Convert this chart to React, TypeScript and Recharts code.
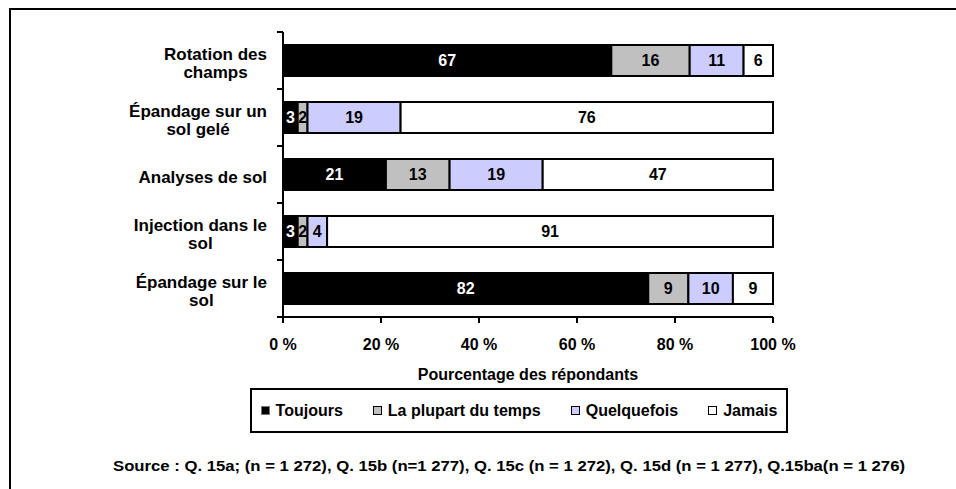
import React from 'react';
import { BarChart, Bar, XAxis, YAxis, LabelList } from 'recharts';

const categories = [
  'Rotation des champs',
  'Épandage sur un sol gelé',
  'Analyses de sol',
  'Injection dans le sol',
  'Épandage sur le sol',
];

// line breaks as in the original axis labels
const categoryLines = [
  ['Rotation des', 'champs'],
  ['Épandage sur un', 'sol gelé'],
  ['Analyses de sol'],
  ['Injection dans le', 'sol'],
  ['Épandage sur le', 'sol'],
];

const toujours = [67, 3, 21, 3, 82];
const plupart = [16, 2, 13, 2, 9];
const quelquefois = [11, 19, 19, 4, 10];
const jamais = [6, 76, 47, 91, 9];

const xTicks = [0, 0.2, 0.4, 0.6, 0.8, 1];

const series = [
  { key: 'toujours', name: 'Toujours', fill: '#000000', label: '#ffffff' },
  { key: 'plupart', name: 'La plupart du temps', fill: '#c0c0c0', label: '#000000' },
  { key: 'quelquefois', name: 'Quelquefois', fill: '#ccccff', label: '#000000' },
  { key: 'jamais', name: 'Jamais', fill: '#ffffff', label: '#000000' },
];

const data = categories.map((name, i) => ({
  name,
  toujours: toujours[i],
  plupart: plupart[i],
  quelquefois: quelquefois[i],
  jamais: jamais[i],
}));

const FONT = "'Liberation Sans', Arial, sans-serif";
const FS = 16;
const CAT_FS = 17;
const PLOT_H = 285;

let ctx: CanvasRenderingContext2D | null = null;
function textWidth(s: string) {
  if (!ctx) ctx = document.createElement('canvas').getContext('2d');
  if (!ctx) return s.length * 9;
  ctx.font = `bold ${CAT_FS}px ${FONT}`;
  return ctx.measureText(s).width;
}

function CategoryTick(props: any) {
  const { x, y, index } = props;
  const band = (Number(props.height) || PLOT_H) / categories.length;
  const lines = categoryLines[index];
  const maxW = Math.max(...lines.map(textWidth));
  const right = x - 16;
  const cx = right - maxW / 2;
  const lh = 18;
  const y0 = y + 3 - ((lines.length - 1) * lh) / 2;
  return (
    <g>
      <line x1={x - 6} x2={x} y1={y - band / 2} y2={y - band / 2} stroke="#000" strokeWidth={2} />
      {index === categories.length - 1 && (
        <line x1={x - 6} x2={x} y1={y + band / 2} y2={y + band / 2} stroke="#000" strokeWidth={2} />
      )}
      <text textAnchor="middle" fontFamily={FONT} fontWeight="bold" fontSize={CAT_FS} fill="#000">
        {lines.map((l, i) => (
          <tspan key={i} x={cx} y={y0 + i * lh} dy="0.35em">
            {l}
          </tspan>
        ))}
      </text>
    </g>
  );
}

export default function App() {
  return (
    <div
      style={{
        position: 'absolute',
        left: 0,
        top: 0,
        width: 956,
        height: 489,
        overflow: 'hidden',
        background: '#fff',
        fontFamily: FONT,
      }}
    >
      <div
        style={{
          position: 'absolute',
          left: 9,
          top: 8,
          width: 1000,
          height: 1000,
          borderLeft: '2px solid #000',
          borderTop: '2px solid #000',
        }}
      />
      <div style={{ position: 'absolute', left: 0, top: 0 }}>
        <BarChart
          width={800}
          height={383}
          data={data}
          layout="vertical"
          stackOffset="expand"
          barSize={31}
          margin={{ top: 32, right: 27, left: 0, bottom: 0 }}
        >
          <XAxis
            type="number"
            domain={[0, 1]}
            ticks={xTicks}
            interval={0}
            tickFormatter={(v: number) => `${Math.round(v * 100)} %`}
            tickSize={6}
            tickMargin={16}
            height={66}
            axisLine={{ stroke: '#000', strokeWidth: 2 }}
            tickLine={{ stroke: '#000', strokeWidth: 2 }}
            tick={{ fill: '#000', fontFamily: FONT, fontWeight: 'bold', fontSize: FS }}
            label={{
              value: 'Pourcentage des répondants',
              position: 'insideBottom',
              offset: 3,
              fill: '#000',
              fontFamily: FONT,
              fontWeight: 'bold',
              fontSize: FS,
            }}
          />
          <YAxis
            type="category"
            dataKey="name"
            width={283}
            interval={0}
            tickSize={0}
            tickMargin={0}
            tickLine={false}
            axisLine={{ stroke: '#000', strokeWidth: 2 }}
            tick={<CategoryTick />}
          />
          {series.map((s) => (
            <Bar
              key={s.key}
              dataKey={s.key}
              name={s.name}
              stackId="a"
              fill={s.fill}
              stroke="#000"
              strokeWidth={2}
              isAnimationActive={false}
            >
              <LabelList
                dataKey={s.key}
                position="center"
                fill={s.label}
                fontFamily={FONT}
                fontWeight="bold"
                fontSize={FS}
              />
            </Bar>
          ))}
        </BarChart>
      </div>
      <div
        style={{
          position: 'absolute',
          left: 250,
          top: 388,
          width: 534,
          height: 41,
          border: '2px solid #000',
          display: 'flex',
          alignItems: 'center',
          justifyContent: 'center',
          gap: 30,
          fontWeight: 'bold',
          fontSize: FS,
          color: '#000',
        }}
      >
        {series.map((s) => (
          <div key={s.key} style={{ display: 'flex', alignItems: 'center', gap: 6 }}>
            <span
              style={{
                display: 'inline-block',
                width: 7,
                height: 7,
                background: s.fill,
                border: s.key === 'toujours' ? '1px solid #777' : '1px solid #000',
              }}
            />
            <span>{s.name}</span>
          </div>
        ))}
      </div>
      <svg width={956} height={30} style={{ position: 'absolute', left: 0, top: 452 }}>
        <text
          x={509}
          y={14}
          dy="0.35em"
          textAnchor="middle"
          textLength={792}
          lengthAdjust="spacingAndGlyphs"
          fontFamily={FONT}
          fontWeight="bold"
          fontSize={14}
          fill="#000"
        >
          Source : Q. 15a; (n = 1 272), Q. 15b (n=1 277), Q. 15c (n = 1 272), Q. 15d (n = 1 277), Q.15ba(n = 1 276)
        </text>
      </svg>
    </div>
  );
}
